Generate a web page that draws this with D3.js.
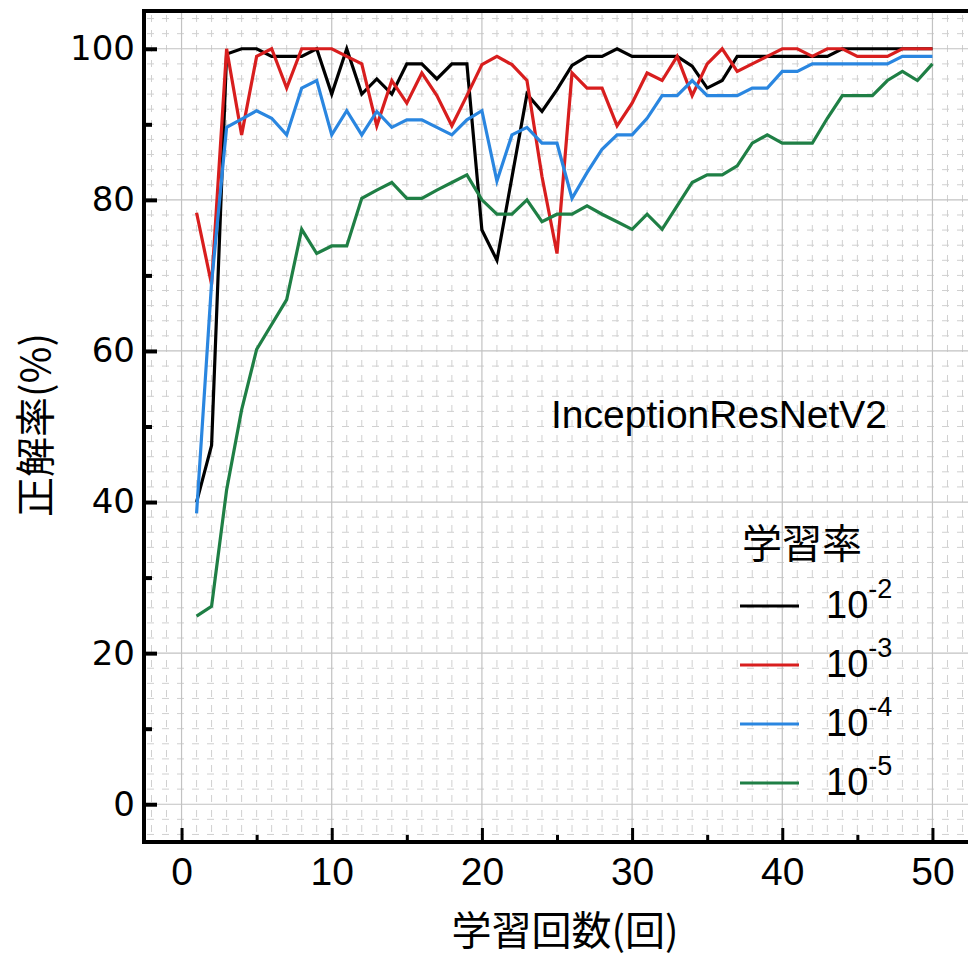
<!DOCTYPE html>
<html>
<head>
<meta charset="utf-8">
<script src="https://cdn.jsdelivr.net/npm/d3@7"></script>
<style>
  body { margin: 0; background: #fff; }
  svg { display: block; }
</style>
</head>
<body>
<svg id="chart" width="968" height="960"></svg>
<script>
// data
let epochs = d3.range(1, 51)

let lr2 = [40, 47.5, 99.3, 100, 100, 99, 99, 99, 100, 94, 100, 94, 96, 94, 98, 98, 96, 98, 98, 76,
    72, 83, 94, 91.7, 94.6, 97.8, 99, 99, 100, 99, 99, 99, 99, 97.7, 94.8, 95.8, 99, 99, 99, 99,
    99, 99, 99, 100, 100, 100, 100, 100, 100, 100]
let lr3 = [78.3, 68.8, 100, 88.6, 99, 100, 94.8, 100, 100, 100, 99, 98, 89.8, 95.8, 92.8, 96.8, 93.8, 89.8, 93.8, 97.9,
    99, 97.9, 95.8, 83.1, 72.9, 96.8, 94.8, 94.8, 89.8, 92.8, 96.8, 95.8, 99, 93.8, 98, 100, 97, 98, 99, 100,
    100, 99, 100, 100, 99, 99, 99, 100, 100, 100]
let lr4 = [38.5, 69, 89.6, 90.7, 91.8, 90.8, 88.6, 94.8, 95.8, 88.6, 91.8, 88.6, 91.7, 89.6, 90.6, 90.6, 89.6, 88.6, 90.6, 91.8,
    82.5, 88.6, 89.6, 87.5, 87.5, 80.2, 83.6, 86.7, 88.6, 88.6, 90.8, 93.8, 93.8, 95.8, 93.8, 93.8, 93.8, 94.8, 94.8, 97,
    97, 98, 98, 98, 98, 98, 98, 99, 99, 99]
let lr5 = [24.9, 26.2, 41.6, 52.2, 60.2, 63.5, 66.8, 76.1, 72.9, 73.9, 73.9, 80.2, 81.3, 82.3, 80.2, 80.2, 81.3, 82.3, 83.3, 80,
    78.1, 78.1, 80, 77.1, 78.1, 78.1, 79.2, 78.1, 77.1, 76.1, 78.1, 76.1, 79.2, 82.3, 83.3, 83.3, 84.5, 87.5, 88.6, 87.5,
    87.5, 87.5, 90.8, 93.8, 93.8, 93.8, 95.8, 97, 95.8, 98]

let seriesNames = ["-2", "-3", "-4", "-5"]
let seriesColors = ["#000000", "#d81e1e", "#2a86e0", "#1f7f45"]
let seriesValues = [lr2, lr3, lr4, lr5]

let xTicks = [0, 10, 20, 30, 40, 50]
let xMinorTicks = [5, 15, 25, 35, 45]
let yTicks = [0, 20, 40, 60, 80, 100]
let yMinorTicks = [10, 30, 50, 70, 90]

let svg = d3.select("#chart")

let plot = { left: 144, top: 11, right: 970, bottom: 842 }

let xScale = d3.scaleLinear().domain([-2.5, 52.5]).range([plot.left, plot.right])
let yScale = d3.scaleLinear().domain([-5, 105]).range([plot.bottom, plot.top])

// grid: dashed minor lines, solid major lines
let grid = svg.append("g").attr("class", "grid")

grid.selectAll("line.vminor")
    .data(d3.range(-2, 53).filter(d => d % 10 != 0))
    .join("line")
    .attr("x1", d => xScale(d)).attr("x2", d => xScale(d))
    .attr("y1", plot.top).attr("y2", plot.bottom)
    .attr("stroke", "#d0d0d0").attr("stroke-width", 1)
    .attr("stroke-dasharray", "7,8").attr("stroke-dashoffset", -4)

grid.selectAll("line.hminor")
    .data(d3.range(-4, 105, 2).filter(d => d % 20 != 0))
    .join("line")
    .attr("x1", plot.left).attr("x2", plot.right)
    .attr("y1", d => yScale(d)).attr("y2", d => yScale(d))
    .attr("stroke", "#d0d0d0").attr("stroke-width", 1)
    .attr("stroke-dasharray", "7,8").attr("stroke-dashoffset", -3)

grid.selectAll("line.vmajor")
    .data(xTicks)
    .join("line")
    .attr("x1", d => xScale(d)).attr("x2", d => xScale(d))
    .attr("y1", plot.top).attr("y2", plot.bottom)
    .attr("stroke", "#c2c2c2").attr("stroke-width", 1.2)

grid.selectAll("line.hmajor")
    .data(yTicks)
    .join("line")
    .attr("x1", plot.left).attr("x2", plot.right)
    .attr("y1", d => yScale(d)).attr("y2", d => yScale(d))
    .attr("stroke", "#c2c2c2").attr("stroke-width", 1.2)

// lines
let line = d3.line()
    .x((d, i) => xScale(epochs[i]))
    .y(d => yScale(d))

svg.append("g")
    .selectAll("path")
    .data(seriesValues)
    .join("path")
    .attr("d", d => line(d))
    .attr("fill", "none")
    .attr("stroke", (d, i) => seriesColors[i])
    .attr("stroke-width", 3.2)
    .attr("stroke-linejoin", "miter")

// frame
svg.append("rect")
    .attr("x", plot.left).attr("y", plot.top)
    .attr("width", plot.right - plot.left).attr("height", plot.bottom - plot.top)
    .attr("fill", "none").attr("stroke", "#000").attr("stroke-width", 4)

// y axis
let yAxis = d3.axisLeft(yScale).tickValues(yTicks).tickSizeInner(-13).tickSizeOuter(0).tickPadding(9)
let yAxisGroup = svg.append("g").attr("transform", `translate(${plot.left},0)`).call(yAxis)
yAxisGroup.select(".domain").remove()
yAxisGroup.selectAll("line").attr("stroke", "#000").attr("stroke-width", 4)
yAxisGroup.selectAll("text")
    .style("font-family", "'DejaVu Sans', sans-serif")
    .style("font-size", "34px")
    .attr("fill", "#000")

let yMinor = svg.append("g").attr("transform", `translate(${plot.left},0)`)
    .call(d3.axisLeft(yScale).tickValues(yMinorTicks).tickSizeInner(-8).tickSizeOuter(0).tickFormat(""))
yMinor.select(".domain").remove()
yMinor.selectAll("line").attr("stroke", "#000").attr("stroke-width", 4)

// x axis
let xAxis = d3.axisBottom(xScale).tickValues(xTicks).tickSizeInner(-14).tickSizeOuter(0).tickPadding(15)
let xAxisGroup = svg.append("g").attr("transform", `translate(0,${plot.bottom})`).call(xAxis)
xAxisGroup.select(".domain").remove()
xAxisGroup.selectAll("line").attr("stroke", "#000").attr("stroke-width", 3)
xAxisGroup.selectAll("text")
    .style("font-family", "'Liberation Sans', Arial, sans-serif")
    .style("font-size", "39px")
    .attr("fill", "#000")

let xMinor = svg.append("g").attr("transform", `translate(0,${plot.bottom})`)
    .call(d3.axisBottom(xScale).tickValues(xMinorTicks).tickSizeInner(-7).tickSizeOuter(0).tickFormat(""))
xMinor.select(".domain").remove()
xMinor.selectAll("line").attr("stroke", "#000").attr("stroke-width", 3)

// axis titles
svg.append("text")
    .attr("x", 565).attr("y", 945)
    .attr("text-anchor", "middle")
    .style("font-family", "'Noto Sans CJK JP', sans-serif")
    .style("font-size", "40px")
    .text("学習回数(回)")

svg.append("text")
    .attr("transform", "translate(50,425) rotate(-90)")
    .attr("text-anchor", "middle")
    .style("font-family", "'Noto Sans CJK JP', sans-serif")
    .style("font-size", "40px")
    .text("正解率(%)")

// model name
svg.append("text")
    .attr("x", 551).attr("y", 428)
    .style("font-family", "'Liberation Sans', Arial, sans-serif")
    .style("font-size", "39px")
    .text("InceptionResNetV2")

// legend
let legend = svg.append("g").attr("transform", "translate(740,0)")
legend.append("text")
    .attr("x", 2).attr("y", 558)
    .style("font-family", "'Noto Sans CJK JP', sans-serif")
    .style("font-size", "40px")
    .text("学習率")

let legendItems = legend.selectAll("g.item")
    .data(seriesNames)
    .join("g")
    .attr("class", "item")
    .attr("transform", (d, i) => `translate(0,${606 + i * 59})`)

legendItems.append("line")
    .attr("x1", 0).attr("x2", 59)
    .attr("stroke", (d, i) => seriesColors[i])
    .attr("stroke-width", 3)

let legendText = legendItems.append("text")
    .attr("x", 86).attr("y", 12)
    .style("font-family", "'Liberation Sans', Arial, sans-serif")
    .style("font-size", "38px")
legendText.append("tspan").text("10")
legendText.append("tspan")
    .attr("dy", -20)
    .style("font-size", "27px")
    .text(d => d)
</script>
</body>
</html>
